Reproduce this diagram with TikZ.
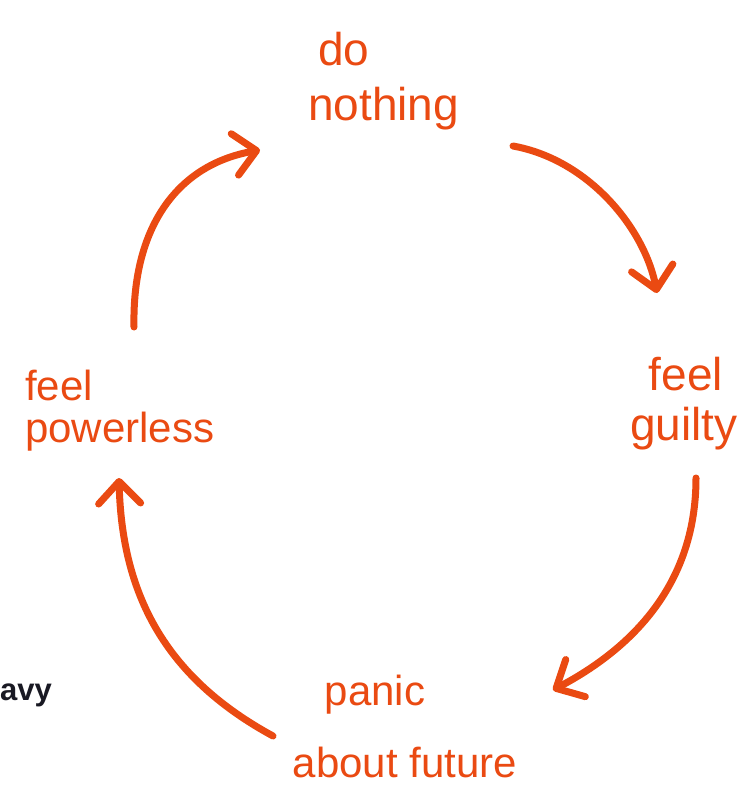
\documentclass[tikz,border=0pt]{standalone}
\usepackage{fontspec}
\setmainfont{Liberation Sans}
\usetikzlibrary{arrows.meta}
\definecolor{marker}{RGB}{234,74,18}
\definecolor{inkdark}{RGB}{25,25,35}
\tikzset{
  hand/.style={text=marker, inner sep=0pt, font=\fontsize{42}{50}\selectfont},
  handbig/.style={hand, font=\fontsize{46}{54}\selectfont},
  cyclearrow/.style={draw=marker, line width=7pt, line cap=round, line join=round,
    -{Straight Barb[length=22pt,width=42pt,line cap=round,line join=round]}},
}
\begin{document}
\begin{tikzpicture}[x=1pt,y=-1pt]
\useasboundingbox (0,0) rectangle (741,792);
\fill[white] (0,0) rectangle (741,792);
% labels
\node[handbig, anchor=base west] (do1) at (318,66) {do};
\node[handbig, anchor=base west] (do2) at (308,120) {nothing};
\node[handbig, anchor=base] (fg1) at (686,390) {feel};
\node[handbig, anchor=base] (fg2) at (684,440) {guilty};
\node[hand, anchor=base west] (fp1) at (25,400) {feel};
\node[hand, anchor=base west] (fp2) at (25,442) {powerless};
\node[hand, anchor=base] (pa1) at (375,705) {panic};
\node[hand, anchor=base] (pa2) at (405,777) {about future};
\node[text=inkdark, inner sep=0pt, anchor=base east, font=\fontsize{31}{34}\selectfont\bfseries] (avy) at (52,700) {avy};
% arrow end points
\coordinate (a1s) at (513,146);
\coordinate (a1e) at (657,293);
\coordinate (a2s) at (696,478);
\coordinate (a2e) at (553,690);
\coordinate (a3s) at (273,736);
\coordinate (a3e) at (119,478);
\coordinate (a4s) at (134,327);
\coordinate (a4e) at (260,150);
% arrows
\draw[cyclearrow] (a1s) .. controls (590,160) and (645,230) .. (a1e);
\draw[cyclearrow] (a2s) .. controls (696,590) and (625,652) .. (a2e);
\draw[cyclearrow] (a3s) .. controls (170,680) and (122,600) .. (a3e);
\draw[cyclearrow] (a4s) .. controls (132,230) and (175,165) .. (a4e);
\end{tikzpicture}
\end{document}
